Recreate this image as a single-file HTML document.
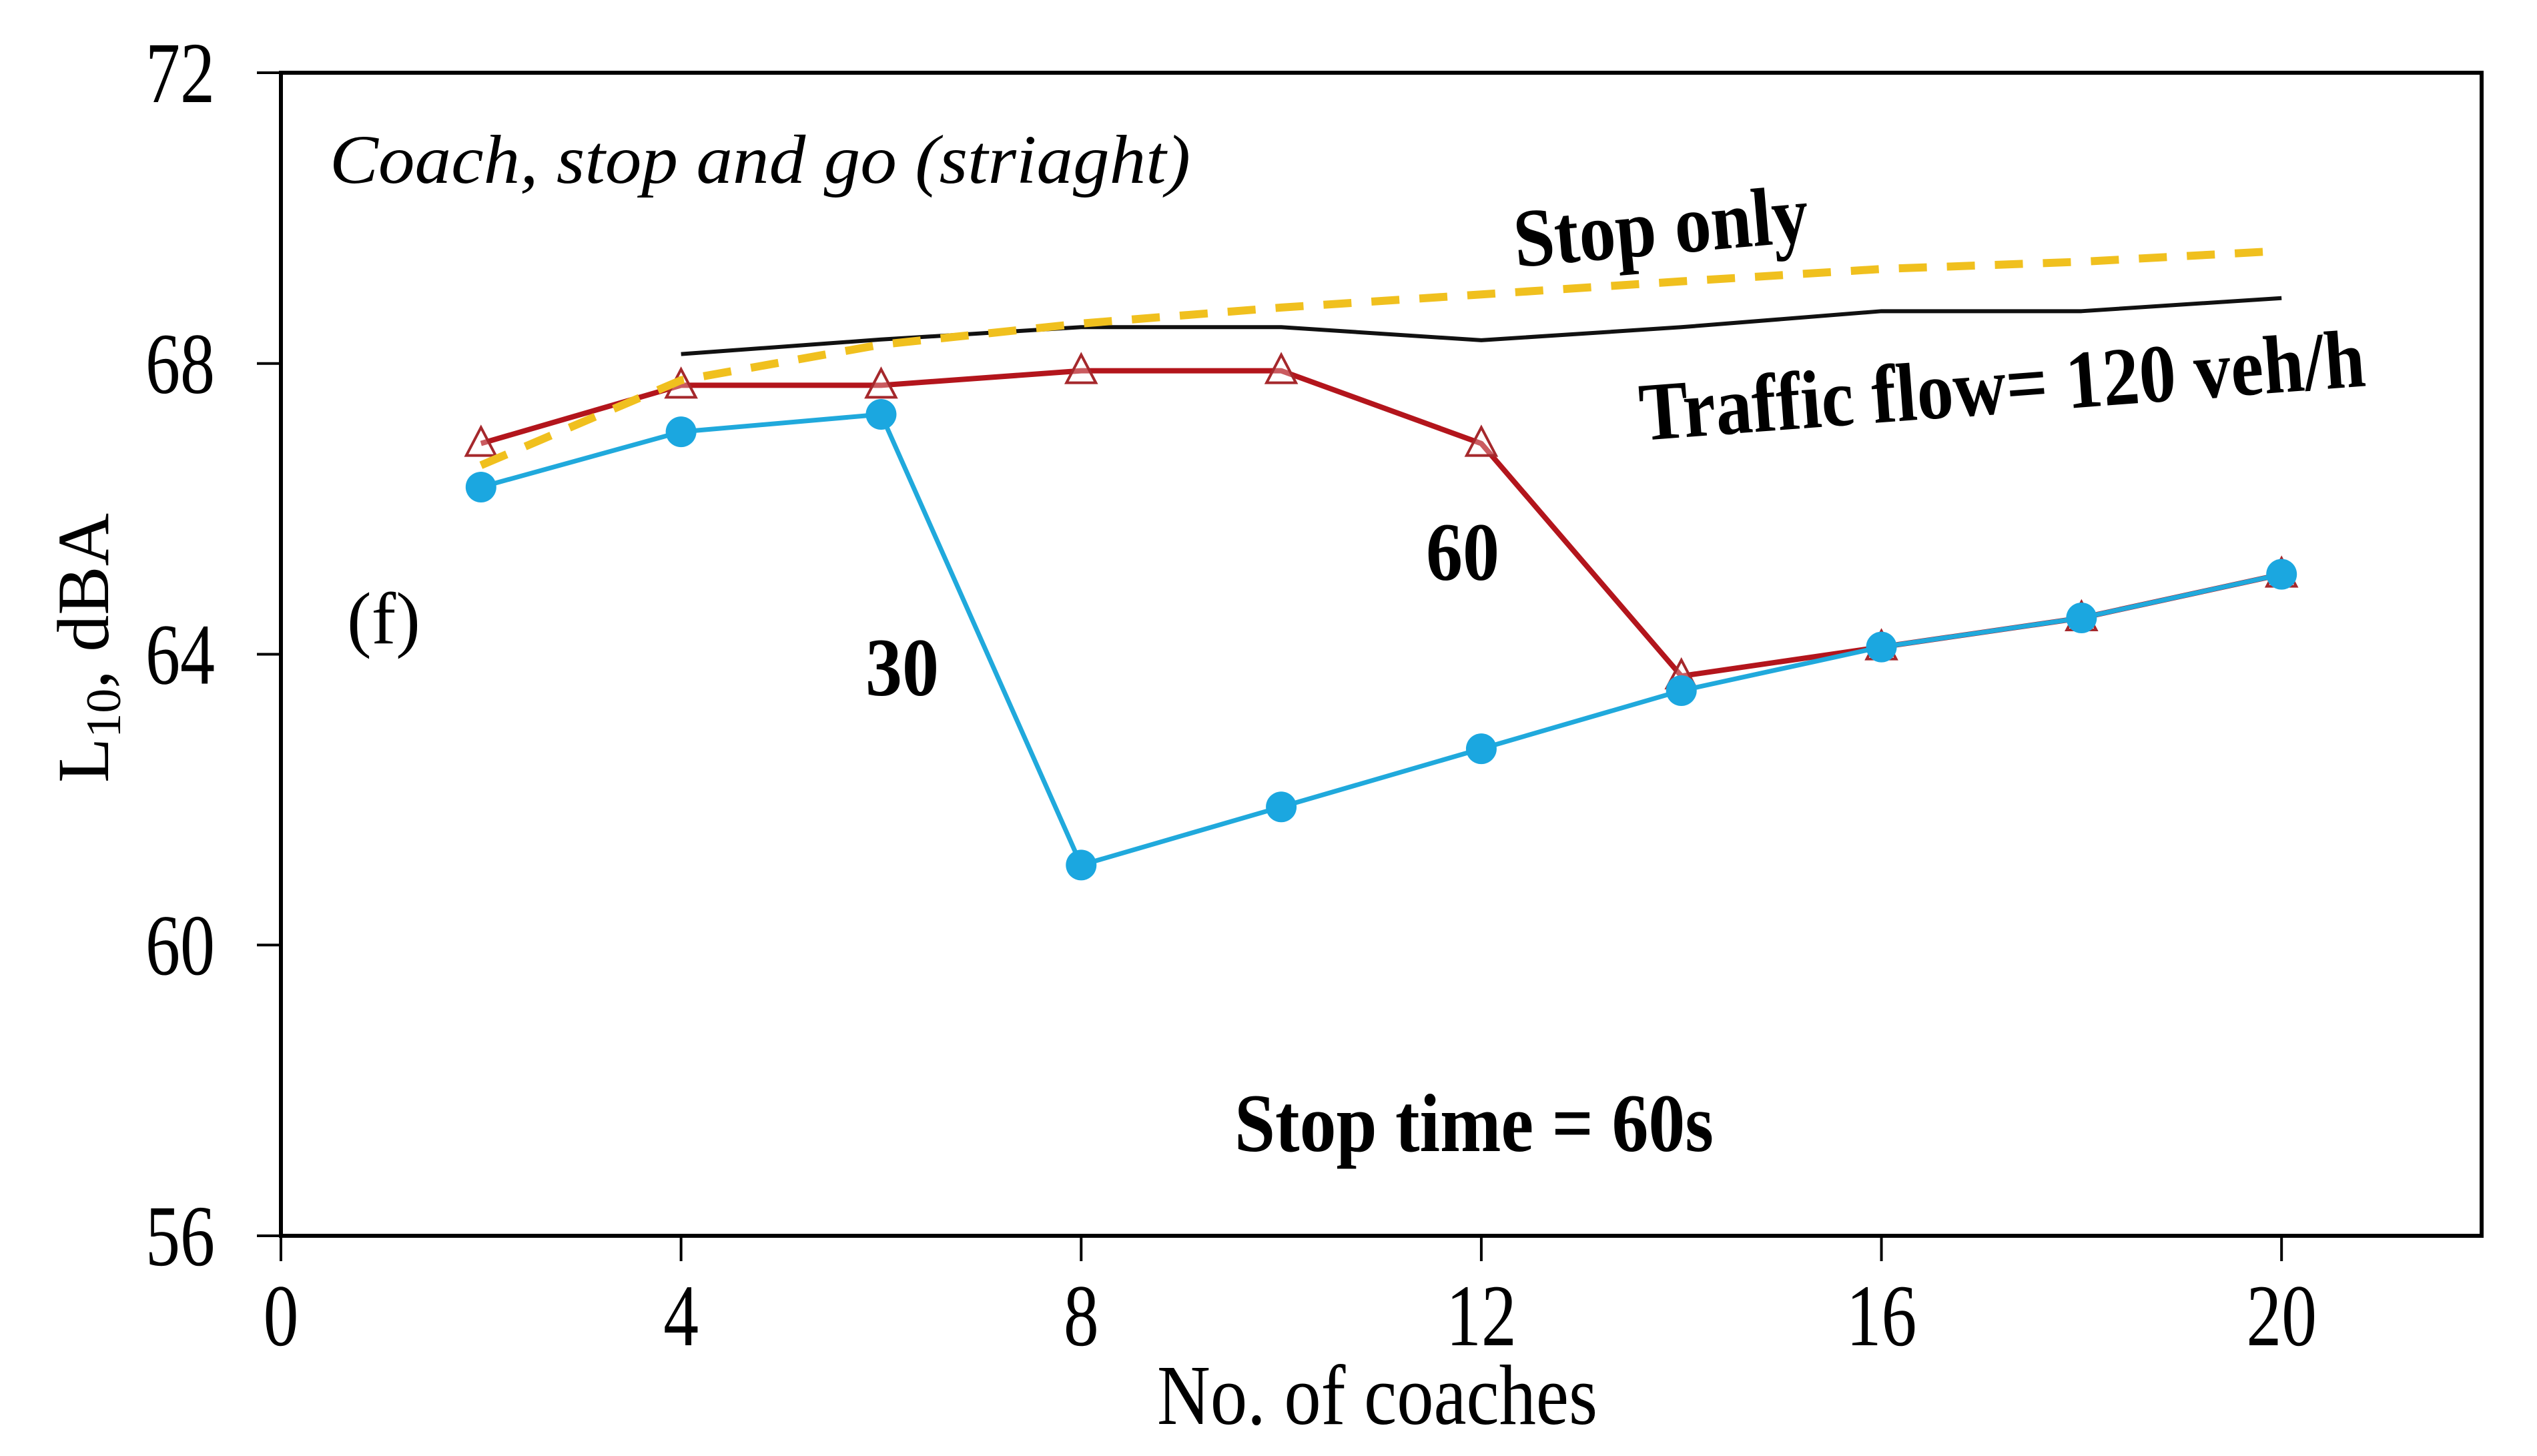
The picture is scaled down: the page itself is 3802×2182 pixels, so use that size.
<!DOCTYPE html>
<html><head><meta charset="utf-8"><style>
html,body{margin:0;padding:0;background:#fff;}
svg{display:block;}
text{font-family:"Liberation Serif",serif;fill:#000;}
</style></head><body>
<svg id="chart" width="3802" height="2182" viewBox="0 0 3802 2182" xmlns="http://www.w3.org/2000/svg">
<g id="plot"></g>
</svg>
<script>
const categories=[2,4,6,8,10,12,14,16,18,20];
const blueVals=[66.3,67.06,67.3,61.1,61.9,62.7,63.5,64.1,64.5,65.1];
const redVals=[66.9,67.7,67.7,67.9,67.9,66.9,63.7,64.1,64.5,65.1];
const blackX=[4,6,8,10,12,14,16,18,20];
const blackVals=[68.13,68.33,68.5,68.5,68.32,68.5,68.72,68.72,68.9];
const yellowVals=[66.6,67.77,68.26,68.55,68.77,68.95,69.13,69.3,69.4,69.55];
const xTicks=[0,4,8,12,16,20];
const yTicks=[56,60,64,68,72];

const L=421,R=3719,T=109,B=1852;
const xMin=0,xMax=22,yMin=56,yMax=72;
function X(v){return L+(v-xMin)/(xMax-xMin)*(R-L);}
function Y(v){return B-(v-yMin)/(yMax-yMin)*(B-T);}
const NS="http://www.w3.org/2000/svg";
const g=document.getElementById('plot');
function el(tag,attrs,parent){const e=document.createElementNS(NS,tag);for(const k in attrs)e.setAttribute(k,attrs[k]);(parent||g).appendChild(e);return e;}

let fr=el('rect',{x:L,y:T,width:R-L,height:B-T,fill:'none',stroke:'#000','stroke-width':6});



xTicks.forEach(v=>{
  let t=el('line',{x1:X(v),x2:X(v),y1:B,y2:B+38,stroke:'#000','stroke-width':4});
  
  
  let lb=el('text',{x:0,y:0,'text-anchor':'middle','font-size':132,transform:'translate('+X(v)+',2016) scale(0.8,1)'});
  lb.textContent=v;
  
  
});
yTicks.forEach(v=>{
  let t=el('line',{x1:L-36,x2:L,y1:Y(v),y2:Y(v),stroke:'#000','stroke-width':4});
  
  
  let lb=el('text',{x:0,y:0,'text-anchor':'end','font-size':130,transform:'translate(322,'+(Y(v)+44)+') scale(0.8,1)'});
  lb.textContent=v;
  
  
});

function poly(xs,ys,attrs,name){
  const pts=xs.map((x,i)=>X(x)+','+Y(ys[i])).join(' ');
  const p=el('polyline',Object.assign({points:pts,fill:'none','stroke-linejoin':'round'},attrs));
  
  
  return p;
}
poly(blackX,blackVals,{stroke:'#111','stroke-width':6},'traffic-flow-line');
poly(categories,redVals,{stroke:'#b3151c','stroke-width':8},'series-60-line');
categories.forEach((c,i)=>{
  const x=X(c),y=Y(redVals[i]);
  const t=el('polygon',{points:(x-22)+','+(y+18)+' '+(x+22)+','+(y+18)+' '+x+','+(y-24),fill:'#fff','fill-opacity':0.3,stroke:'#a5282c','stroke-width':4});
  
  
});
poly(categories,blueVals,{stroke:'#20a9dc','stroke-width':7},'series-30-line');
categories.forEach((c,i)=>{
  const ci=el('circle',{cx:X(c),cy:Y(blueVals[i]),r:23,fill:'#1ba7e0'});
  
  
});
poly(categories,yellowVals,{stroke:'#f0c01e','stroke-width':12,'stroke-dasharray':'42 30'},'stop-only-line');

function txt(s,attrs,name){
  const t=el('text',attrs);t.textContent=s;
  
  
  return t;
}
txt('Coach, stop and go (striaght)',{x:494,y:274,'font-size':104,'font-style':'italic',textLength:1290,lengthAdjust:'spacingAndGlyphs'},'panel-title');
txt('Stop only',{x:0,y:0,'font-size':124,'font-weight':'bold',textLength:443,lengthAdjust:'spacingAndGlyphs',transform:'translate(2272,400) rotate(-5)'},'stop-only-label');
txt('Traffic flow= 120 veh/h',{x:0,y:0,'font-size':124,'font-weight':'bold',textLength:1090,lengthAdjust:'spacingAndGlyphs',transform:'translate(2460,660) rotate(-4.3)'},'traffic-flow-label');
txt('60',{x:2137,y:869,'font-size':124,'font-weight':'bold',textLength:110,lengthAdjust:'spacingAndGlyphs'},'label-60');
txt('30',{x:1297,y:1042,'font-size':124,'font-weight':'bold',textLength:110,lengthAdjust:'spacingAndGlyphs'},'label-30');
txt('(f)',{x:520,y:964,'font-size':110},'panel-letter');
txt('Stop time = 60s',{x:1850,y:1725,'font-size':124,'font-weight':'bold',textLength:718,lengthAdjust:'spacingAndGlyphs'},'stop-time-label');
txt('No. of coaches',{x:2064,y:2134,'font-size':128,'text-anchor':'middle',textLength:660,lengthAdjust:'spacingAndGlyphs'},'x-axis-title');
const yt=el('text',{x:0,y:0,'font-size':110,'text-anchor':'middle',transform:'translate(162,971) rotate(-90)'});


yt.innerHTML='L<tspan font-size="74" dy="18">10</tspan><tspan dy="-18">, dBA</tspan>';
</script>
</body></html>
